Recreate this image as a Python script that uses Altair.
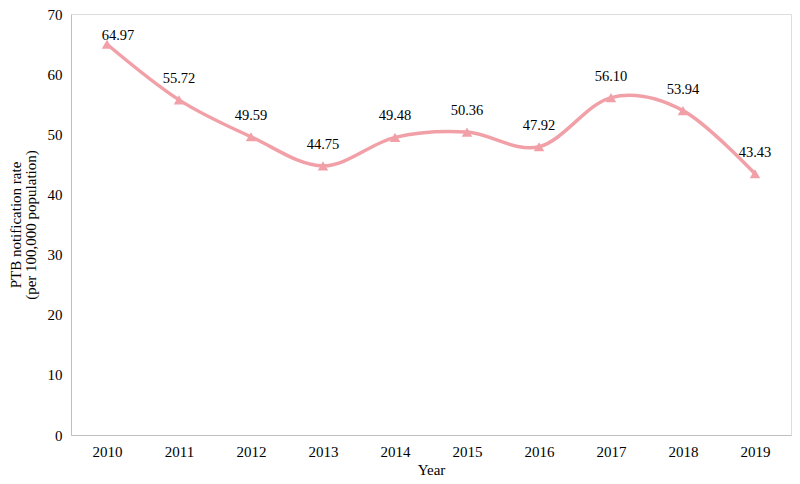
import altair as alt
import pandas as pd

years = [2010, 2011, 2012, 2013, 2014, 2015, 2016, 2017, 2018, 2019]
rates = [64.97, 55.72, 49.59, 44.75, 49.48, 50.36, 47.92, 56.10, 53.94, 43.43]
labels = ["64.97", "55.72", "49.59", "44.75", "49.48", "50.36", "47.92", "56.10", "53.94", "43.43"]

df = pd.DataFrame({"Year": years, "Rate": rates, "Label": labels})

FONT = "Liberation Serif"
COLOR = "#F2A0A8"

x = alt.X(
    "Year:Q",
    scale=alt.Scale(domain=[2009.5, 2019.5], nice=False, zero=False),
    axis=alt.Axis(
        values=years, format="d", grid=False, ticks=False, labelPadding=9,
        title="Year", titlePadding=3, domainColor="#BFBFBF", labelFontSize=15,
        titleFontSize=15, labelFont=FONT, titleFont=FONT, titleFontWeight="normal",
        labelColor="#000000", titleColor="#000000",
    ),
)
y = alt.Y(
    "Rate:Q",
    scale=alt.Scale(domain=[0, 70], nice=False),
    axis=alt.Axis(
        values=[0, 10, 20, 30, 40, 50, 60, 70], grid=False, ticks=False, labelPadding=9,
        title=["PTB notification rate", "(per 100,000 population)"], titlePadding=9,
        domainColor="#BFBFBF", labelFontSize=15, titleFontSize=15, labelFont=FONT,
        titleFont=FONT, titleFontWeight="normal", labelColor="#000000",
        titleColor="#000000", titleLineHeight=15,
    ),
)

base = alt.Chart(df)
line = base.mark_line(color=COLOR, strokeWidth=3.5, interpolate="cardinal").encode(x=x, y=y)
pts = base.mark_point(shape="triangle-up", filled=True, opacity=1, color=COLOR, size=110).encode(x=x, y=y)
txt = base.transform_filter("datum.Year != 2010").mark_text(
    dy=-21, font=FONT, fontSize=14.5, color="#000000"
).encode(x=x, y=y, text="Label:N")
txt0 = base.transform_filter("datum.Year == 2010").mark_text(
    dy=-8, dx=11, font=FONT, fontSize=14.5, color="#000000"
).encode(x=x, y=y, text="Label:N")

chart = alt.layer(line, pts, txt, txt0).properties(
    width=720, height=421,
    autosize=alt.AutoSizeParams(type="none"),
    padding={"left": 63, "top": 6, "right": 1, "bottom": 41},
).configure_view(stroke=None).configure(background="white")

chart.save("out.html", embed_options={"renderer": "svg", "actions": False})
